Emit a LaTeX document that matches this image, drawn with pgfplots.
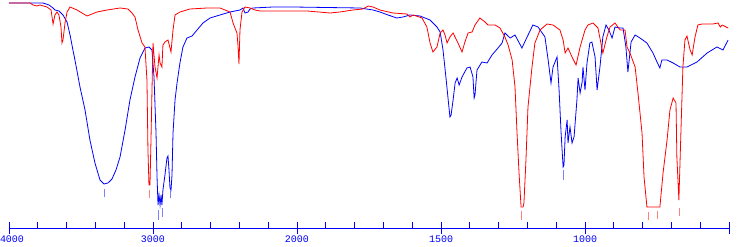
\documentclass[border=0pt]{standalone}
\usepackage{fontspec}
\setmonofont{Liberation Mono}
\usepackage{pgfplots}
\pgfplotsset{compat=1.18}
\definecolor{sred}{RGB}{255,0,0}
\definecolor{sblue}{RGB}{0,0,255}
\definecolor{lred}{RGB}{255,128,128}
\definecolor{lblue}{RGB}{128,128,255}
\begin{document}
\begin{tikzpicture}
\begin{axis}[
  name=ax,
  scale only axis, width=720pt, height=228pt,
  x coord trafo/.code={\pgfmathparse{(#1>=2000)*(4000-#1)/1000+(#1<2000)*(2+(2000-#1)/500)}},
  xmin=4000, xmax=500, ymin=0, ymax=228,
  axis y line=none, axis x line=bottom,
  axis line style={sblue,-,line width=0.9pt},
  xtick={3800,3600,3400,3200,2800,2600,2400,2200,1900,1800,1700,1600,1400,1300,1200,1100,900,800,700,600},
  xticklabels={},
  tick align=inside, major tick length=6pt,
  tick style={sblue,line width=0.9pt},
  extra x ticks={4000,3000,2000,1500,1000,500},
  extra x tick labels={\rlap{\hspace*{-9pt}4000},3000,2000,1500,1000,{}},
  extra x tick style={tick align=center, major tick length=12pt},
  xticklabel style={anchor=base, yshift=-8.5pt, text=sblue, font=\ttfamily\fontsize{10}{10}\selectfont},
  ytick=\empty,
  every axis plot/.append style={line width=0.8pt},
]
% blue spectrum
\addplot[sblue] coordinates {
(4000,225)(3764,225)(3722,223)(3694,220)(3681,218)(3653,217)(3625,213)(3597,206)(3576,193)(3556,178)(3542,168)
(3507,141)(3472,118)(3438,88)(3403,65)(3368,48)(3340,44)(3313,45)(3285,49)(3257,58)(3229,71)(3194,98)(3160,128)
(3125,151)(3090,170)(3056,180)(3028,181)(3007,178)(2993,151)(2979,95)(2972,51)(2965,23)(2958,33)(2951,23)(2944,33)
(2938,23)(2931,38)(2917,53)(2903,70)(2896,72)(2889,58)(2882,40)(2875,38)(2868,53)(2861,95)(2847,128)(2833,145)
(2813,165)(2792,181)(2764,190)(2729,192)(2694,198)(2653,205)(2604,210)(2535,213)(2465,216)(2396,218)(2375,220)
(2361,215)(2340,216)(2326,219)(2306,220)(2167,221)(2028,221)(1781,220)(1736,218)(1712,216)(1684,213)(1653,210)
(1632,211)(1608,213)(1573,212)(1538,208)(1514,201)(1503,196)(1493,178)(1483,151)(1476,131)(1469,111)(1465,113)
(1458,128)(1451,145)(1444,150)(1437,143)(1427,151)(1410,160)(1399,161)(1389,151)(1385,130)(1382,133)(1375,158)
(1358,166)(1340,165)(1323,173)(1302,180)(1288,185)(1278,195)(1260,190)(1243,193)(1219,180)(1201,191)(1181,203)
(1163,201)(1139,191)(1128,168)(1118,145)(1111,161)(1097,171)(1090,138)(1083,95)(1076,61)(1073,63)(1069,91)
(1062,108)(1059,85)(1052,101)(1045,85)(1038,91)(1028,128)(1024,150)(1017,135)(1010,146)(1007,161)(1000,138)
(993,165)(983,185)(976,186)(965,171)(958,138)(948,161)(938,191)(927,203)(917,198)(906,190)(896,201)(878,200)
(868,200)(858,181)(851,156)(840,186)(826,193)(809,190)(785,185)(764,175)(750,166)(740,160)(733,168)(715,168)
(694,165)(670,161)(646,161)(611,166)(576,175)(542,181)(521,178)(503,188)
};
% red spectrum
\addplot[sred] coordinates {
(4000,225)(3854,225)(3833,223)(3806,222)(3785,223)(3736,221)(3708,218)(3694,204)(3681,213)(3667,216)(3653,213)
(3639,201)(3632,185)(3625,188)(3611,205)(3597,216)(3576,221)(3528,218)(3458,212)(3389,216)(3319,218)(3229,220)
(3174,219)(3146,215)(3125,211)(3104,198)(3076,185)(3056,181)(3042,148)(3035,78)(3028,43)(3021,43)(3014,88)
(3007,138)(3000,185)(2986,161)(2972,150)(2958,173)(2951,165)(2938,161)(2931,183)(2917,186)(2896,188)(2882,180)
(2875,176)(2861,198)(2847,213)(2813,216)(2743,219)(2625,220)(2535,220)(2465,216)(2444,205)(2417,195)(2410,183)
(2403,164)(2396,198)(2382,216)(2361,221)(2326,220)(2292,218)(2257,217)(2049,217)(1965,217)(1885,215)(1851,216)
(1806,218)(1771,219)(1753,222)(1736,221)(1712,218)(1667,215)(1618,214)(1608,211)(1597,213)(1566,210)(1549,201)
(1538,185)(1528,176)(1514,181)(1503,195)(1493,198)(1486,193)(1479,185)(1469,191)(1458,195)(1441,185)(1427,176)
(1417,186)(1406,195)(1392,196)(1382,203)(1365,210)(1347,206)(1337,203)(1312,203)(1295,200)(1278,191)(1267,183)
(1253,168)(1243,141)(1236,95)(1229,55)(1222,21)(1215,21)(1212,25)(1205,68)(1198,121)(1184,161)(1174,185)
(1156,198)(1132,204)(1111,203)(1087,198)(1076,188)(1069,175)(1059,180)(1045,171)(1031,163)(1017,181)(1000,198)
(990,203)(972,205)(955,200)(938,175)(924,191)(913,201)(896,205)(878,198)(861,198)(854,181)(844,175)(826,161)
(816,135)(802,95)(795,51)(785,21)(740,21)(729,55)(715,88)(705,118)(694,130)(684,125)(681,71)(674,28)(667,95)
(660,161)(653,188)(646,192)(635,178)(628,173)(618,191)(608,203)(594,204)(556,204)(538,205)(530,201)(524,203)(503,200)
};
% peak markers
\addplot[lblue] coordinates {(3340,39)(3340,31)};
\addplot[lblue] coordinates {(2965,18)(2965,8)};
\addplot[lblue] coordinates {(2933,20)(2933,11)};
\addplot[lblue] coordinates {(2882,38)(2882,30)};
\addplot[lblue] coordinates {(1076,58)(1076,48)};
\addplot[lred] coordinates {(3024,38)(3024,30)};
\addplot[lred] coordinates {(1221,17)(1221,8)};
\addplot[lred] coordinates {(780,16)(780,8)};
\addplot[lred] coordinates {(747,17)(747,9)};
\addplot[lred] coordinates {(673,20)(673,12)};
\end{axis}
\pgfresetboundingbox
\path (ax.south west) ++(-9pt,-18pt) rectangle ++(738pt,246pt);
\end{tikzpicture}
\end{document}
